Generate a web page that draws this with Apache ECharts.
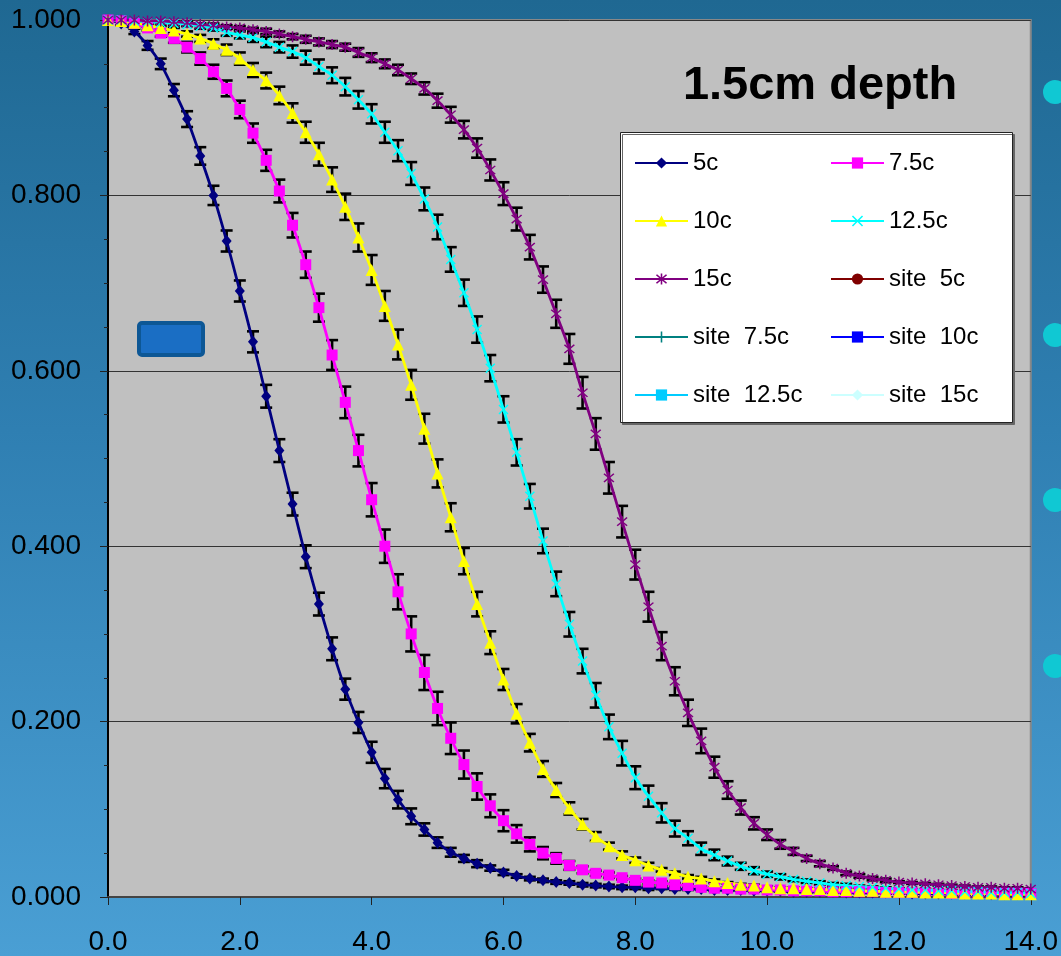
<!DOCTYPE html>
<html>
<head>
<meta charset="utf-8">
<script src="https://cdn.jsdelivr.net/npm/echarts@6/dist/echarts.min.js"></script>
<style>
html,body{margin:0;padding:0;}
#chart{width:1061px;height:956px;background:linear-gradient(180deg,#1f6892 0%,#2f7fb2 45%,#4a9fd4 100%);}
</style>
</head>
<body>
<div id="chart"></div>
<script>
// x positions (cm)
const xs = [0.0,0.2,0.4,0.6,0.8,1.0,1.2,1.4,1.6,1.8,2.0,2.2,2.4,2.6,2.8,3.0,3.2,3.4,3.6,3.8,4.0,4.2,4.4,4.6,4.8,5.0,5.2,5.4,5.6,5.8,6.0,6.2,6.4,6.6,6.8,7.0,7.2,7.4,7.6,7.8,8.0,8.2,8.4,8.6,8.8,9.0,9.2,9.4,9.6,9.8,10.0,10.2,10.4,10.6,10.8,11.0,11.2,11.4,11.6,11.8,12.0,12.2,12.4,12.6,12.8,13.0,13.2,13.4,13.6,13.8,14.0];

const c5 = [1.000,0.996,0.987,0.971,0.950,0.920,0.887,0.845,0.800,0.748,
 0.691,0.633,0.571,0.509,0.448,0.388,0.334,0.283,0.237,0.199,
 0.165,0.135,0.111,0.092,0.077,0.062,0.051,0.044,0.038,0.033,
 0.028,0.024,0.021,0.019,0.017,0.016,0.014,0.013,0.012,0.011,
 0.011,0.010,0.010,0.009,0.009,0.009,0.008,0.008,0.008,0.007,
 0.007,0.007,0.006,0.006,0.006,0.006,0.005,0.005,0.005,0.005,
 0.005,0.004,0.004,0.004,0.004,0.004,0.004,0.003,0.003,0.003,0.003];
const c75 = [1.000,0.999,0.996,0.991,0.985,0.979,0.969,0.956,0.941,0.922,
 0.898,0.871,0.840,0.805,0.766,0.721,0.672,0.618,0.564,0.509,
 0.453,0.400,0.348,0.300,0.256,0.215,0.181,0.151,0.126,0.104,
 0.087,0.072,0.060,0.050,0.044,0.036,0.031,0.027,0.025,0.022,
 0.019,0.017,0.016,0.014,0.013,0.011,0.010,0.010,0.009,0.009,
 0.008,0.008,0.007,0.007,0.007,0.006,0.006,0.006,0.006,0.005,
 0.005,0.005,0.005,0.005,0.004,0.004,0.004,0.004,0.004,0.004,0.004];
const c10 = [1.000,0.999,0.997,0.994,0.991,0.988,0.984,0.979,0.973,0.966,
 0.956,0.943,0.931,0.914,0.894,0.872,0.847,0.818,0.787,0.752,
 0.715,0.674,0.630,0.584,0.534,0.483,0.433,0.383,0.334,0.290,
 0.248,0.209,0.176,0.146,0.122,0.101,0.083,0.069,0.058,0.048,
 0.042,0.036,0.031,0.027,0.023,0.021,0.018,0.016,0.014,0.013,
 0.011,0.010,0.010,0.009,0.009,0.008,0.008,0.007,0.007,0.006,
 0.006,0.006,0.005,0.005,0.005,0.004,0.004,0.004,0.003,0.003,0.003];
const c125 = [1.000,1.000,0.999,0.998,0.997,0.996,0.995,0.993,0.991,0.986,
 0.983,0.980,0.975,0.969,0.964,0.957,0.947,0.937,0.924,0.909,
 0.893,0.872,0.851,0.825,0.796,0.764,0.727,0.689,0.647,0.603,
 0.556,0.507,0.457,0.406,0.357,0.311,0.269,0.230,0.194,0.164,
 0.136,0.115,0.096,0.078,0.067,0.055,0.048,0.041,0.035,0.030,
 0.026,0.023,0.020,0.018,0.016,0.014,0.013,0.012,0.011,0.010,
 0.009,0.008,0.008,0.007,0.007,0.006,0.006,0.005,0.005,0.005,0.004];
const c15 = [1.000,1.000,1.000,0.999,0.999,0.998,0.997,0.995,0.994,0.992,
 0.991,0.989,0.987,0.984,0.981,0.978,0.975,0.972,0.969,0.963,
 0.957,0.950,0.943,0.933,0.922,0.908,0.892,0.875,0.854,0.829,
 0.802,0.773,0.741,0.704,0.665,0.625,0.575,0.528,0.478,0.428,
 0.379,0.331,0.286,0.246,0.210,0.178,0.148,0.122,0.102,0.084,
 0.071,0.060,0.052,0.044,0.038,0.033,0.027,0.024,0.021,0.019,
 0.017,0.016,0.015,0.014,0.013,0.012,0.011,0.011,0.010,0.010,0.009];

// error bar half-heights
const e5 = [0.000,0.002,0.003,0.005,0.006,0.007,0.009,0.010,0.011,0.012,
 0.012,0.012,0.013,0.013,0.013,0.013,0.013,0.013,0.012,0.012,
 0.012,0.011,0.010,0.009,0.007,0.006,0.005,0.004,0.004,0.003,
 0.003,0.002,0.002,0.002,0.002,0.002,0.002,0.002,0.002,0.002,
 0.002,0.002,0.001,0.001,0.001,0.001,0.001,0.001,0.001,0.001,
 0.001,0.001,0.001,0.001,0.001,0.001,0.001,0.001,0.001,0.001,
 0.001,0.001,0.001,0.001,0.001,0.001,0.001,0.001,0.001,0.001,0.001];
const e75 = [0.000,0.001,0.002,0.003,0.004,0.005,0.006,0.007,0.008,0.009,
 0.010,0.011,0.012,0.013,0.014,0.015,0.016,0.017,0.018,0.018,
 0.019,0.019,0.020,0.020,0.020,0.019,0.018,0.016,0.015,0.013,
 0.012,0.010,0.008,0.007,0.006,0.005,0.004,0.003,0.003,0.002,
 0.002,0.002,0.002,0.002,0.002,0.001,0.001,0.001,0.001,0.001,
 0.001,0.001,0.001,0.001,0.001,0.001,0.001,0.001,0.001,0.001,
 0.001,0.001,0.001,0.001,0.001,0.001,0.001,0.001,0.001,0.001,0.001];
const e10 = [0.000,0.001,0.001,0.002,0.002,0.003,0.003,0.004,0.005,0.006,
 0.007,0.008,0.009,0.010,0.011,0.012,0.013,0.014,0.015,0.016,
 0.017,0.017,0.017,0.017,0.017,0.016,0.016,0.015,0.014,0.013,
 0.012,0.011,0.010,0.009,0.008,0.007,0.006,0.005,0.004,0.004,
 0.003,0.003,0.002,0.002,0.002,0.002,0.002,0.001,0.001,0.001,
 0.001,0.001,0.001,0.001,0.001,0.001,0.001,0.001,0.001,0.001,
 0.001,0.001,0.001,0.001,0.001,0.001,0.001,0.001,0.001,0.001,0.001];
const e125 = [0.000,0.000,0.001,0.001,0.001,0.002,0.002,0.003,0.003,0.004,
 0.004,0.005,0.006,0.006,0.007,0.008,0.008,0.009,0.010,0.010,
 0.011,0.012,0.012,0.013,0.013,0.014,0.014,0.015,0.015,0.015,
 0.015,0.015,0.014,0.014,0.014,0.014,0.014,0.014,0.014,0.014,
 0.013,0.012,0.011,0.009,0.008,0.007,0.006,0.005,0.004,0.004,
 0.003,0.003,0.002,0.002,0.002,0.002,0.002,0.001,0.001,0.001,
 0.001,0.001,0.001,0.001,0.001,0.001,0.001,0.001,0.001,0.001,0.001];
const e15 = [0.000,0.000,0.000,0.000,0.001,0.001,0.001,0.001,0.002,0.002,
 0.002,0.002,0.003,0.003,0.003,0.004,0.004,0.004,0.004,0.005,
 0.005,0.005,0.006,0.006,0.007,0.008,0.009,0.010,0.011,0.012,
 0.013,0.013,0.014,0.015,0.016,0.017,0.018,0.018,0.018,0.018,
 0.017,0.017,0.016,0.016,0.015,0.014,0.012,0.010,0.008,0.007,
 0.006,0.005,0.004,0.003,0.003,0.002,0.002,0.002,0.002,0.002,
 0.001,0.001,0.001,0.001,0.001,0.001,0.001,0.001,0.001,0.001,0.001];

const yTicks = [0.0, 0.2, 0.4, 0.6, 0.8, 1.0];
const xTicks = [0.0, 2.0, 4.0, 6.0, 8.0, 10.0, 12.0, 14.0];

const FONT = "'Liberation Sans', Arial, sans-serif";
const X_PATH = 'path://M1,0L5,4L9,0L10,1L6,5L10,9L9,10L5,6L1,10L0,9L4,5L0,1Z';
const STAR_PATH = 'path://M1,0L5,4L9,0L10,1L6,5L10,9L9,10L5,6L1,10L0,9L4,5L0,1Z M4.3,-1L5.7,-1L5.7,11L4.3,11Z';
const PLUS_PATH = 'path://M4.3,0L5.7,0L5.7,10L4.3,10Z M0,4.3L10,4.3L10,5.7L0,5.7Z';

const mainSeries = [
  {name:'5c', vals:c5, err:e5, color:'#000080', symbol:'diamond', size:[10,12]},
  {name:'7.5c', vals:c75, err:e75, color:'#ff00ff', symbol:'rect', size:11},
  {name:'10c', vals:c10, err:e10, color:'#ffff00', symbol:'triangle', size:12},
  {name:'12.5c', vals:c125, err:e125, color:'#00ffff', symbol:X_PATH, size:10},
  {name:'15c', vals:c15, err:e15, color:'#800080', symbol:STAR_PATH, size:11}
];
const siteSeries = [
  {name:'site  5c', color:'#800000', symbol:'circle'},
  {name:'site  7.5c', color:'#008080', symbol:PLUS_PATH},
  {name:'site  10c', color:'#0000ff', symbol:'rect'},
  {name:'site  12.5c', color:'#00ccff', symbol:'rect'},
  {name:'site  15c', color:'#ccffff', symbol:'diamond'}
];

const errData = [];
mainSeries.forEach(s => {
  xs.forEach((x, i) => errData.push([x, s.vals[i] - s.err[i], s.vals[i] + s.err[i]]));
});

const series = [];
series.push({
  type:'custom', name:'err', z:1, silent:true, clip:true,
  data: errData,
  encode:{x:0, y:[1,2]},
  renderItem: function(params, api){
    const x = api.value(0), lo = api.value(1), hi = api.value(2);
    const a = api.coord([x, lo]), b = api.coord([x, hi]);
    const w = 6, st = {stroke:'#000', lineWidth:2.6};
    return {type:'group', children:[
      {type:'line', shape:{x1:a[0], y1:a[1], x2:b[0], y2:b[1]}, style:st},
      {type:'line', shape:{x1:b[0]-w, y1:b[1], x2:b[0]+w, y2:b[1]}, style:st},
      {type:'line', shape:{x1:a[0]-w, y1:a[1], x2:a[0]+w, y2:a[1]}, style:st}
    ]};
  }
});
mainSeries.forEach(s => {
  series.push({
    type:'line', name:s.name, z:3, smooth:0.2,
    data: xs.map((x,i) => [x, s.vals[i]]),
    symbol:s.symbol, symbolSize:s.size, showAllSymbol:true,
    lineStyle:{color:s.color, width:2.8},
    itemStyle:{color:s.color},
    emphasis:{disabled:true}
  });
});
siteSeries.forEach(s => {
  series.push({
    type:'line', name:s.name, data:[], symbol:s.symbol,
    lineStyle:{color:s.color, width:2.8}, itemStyle:{color:s.color}
  });
});

const legendText = {fontSize:24, color:'#000', fontFamily:FONT, lineHeight:24};
const option = {
  animation:false,
  backgroundColor:'transparent',
  grid:{left:108, right:28, top:20, bottom:58, show:true, backgroundColor:'#c0c0c0', borderColor:'#888', borderWidth:2},
  xAxis:{
    type:'value', min:xTicks[0], max:xTicks[xTicks.length-1], interval:2,
    axisLine:{lineStyle:{color:'#444', width:2}},
    axisTick:{show:true, length:8, lineStyle:{color:'#222', width:1}},
    splitLine:{show:false},
    axisLabel:{margin:31, fontSize:28, color:'#000', fontFamily:FONT, formatter:v => v.toFixed(1)}
  },
  yAxis:{
    type:'value', min:yTicks[0], max:yTicks[yTicks.length-1], interval:0.2,
    axisLine:{show:true, lineStyle:{color:'#000', width:2}},
    axisTick:{show:true, length:8, lineStyle:{color:'#222', width:1}},
    minorTick:{show:true, splitNumber:4, length:4, lineStyle:{color:'#222', width:1}},
    splitLine:{show:true, lineStyle:{color:'#333', width:1}},
    axisLabel:{margin:27, fontSize:28, color:'#000', fontFamily:FONT, formatter:v => v.toFixed(3)}
  },
  legend:[
    {left:634, top:151, padding:0, orient:'vertical', itemWidth:53, itemHeight:14, itemGap:34, z:10,
     selectedMode:false, textStyle:legendText,
     data:['5c','10c','15c','site  7.5c','site  12.5c']},
    {left:830, top:151, padding:0, orient:'vertical', itemWidth:53, itemHeight:14, itemGap:34, z:10,
     selectedMode:false, textStyle:legendText,
     data:['7.5c','12.5c','site  5c','site  10c','site  15c']}
  ],
  graphic:{elements:[
    {type:'rect', z:5, shape:{x:620.5, y:132.5, width:392, height:290},
     style:{fill:'#fff', stroke:'#222', lineWidth:1, shadowColor:'#666', shadowOffsetX:2, shadowOffsetY:2, shadowBlur:0}},
    {type:'text', z:5, x:820, y:86, style:{text:'1.5cm depth', font:"bold 47px 'Liberation Sans', Arial, sans-serif", fill:'#000', align:'center', verticalAlign:'middle'}},
    {type:'rect', z:5, shape:{x:139, y:323, width:64, height:32, r:3},
     style:{fill:'#1a6ec4', stroke:'#0d5795', lineWidth:4}},
    {type:'circle', z:5, shape:{cx:1055, cy:92, r:12}, style:{fill:'#10c8d3'}},
    {type:'circle', z:5, shape:{cx:1055, cy:335, r:12}, style:{fill:'#10c8d3'}},
    {type:'circle', z:5, shape:{cx:1055, cy:500, r:12}, style:{fill:'#10c8d3'}},
    {type:'circle', z:5, shape:{cx:1055, cy:666, r:12}, style:{fill:'#10c8d3'}}
  ]},
  series: series
};
const chart = echarts.init(document.getElementById('chart'), null, {renderer:'canvas'});
chart.setOption(option);
</script>
</body>
</html>
